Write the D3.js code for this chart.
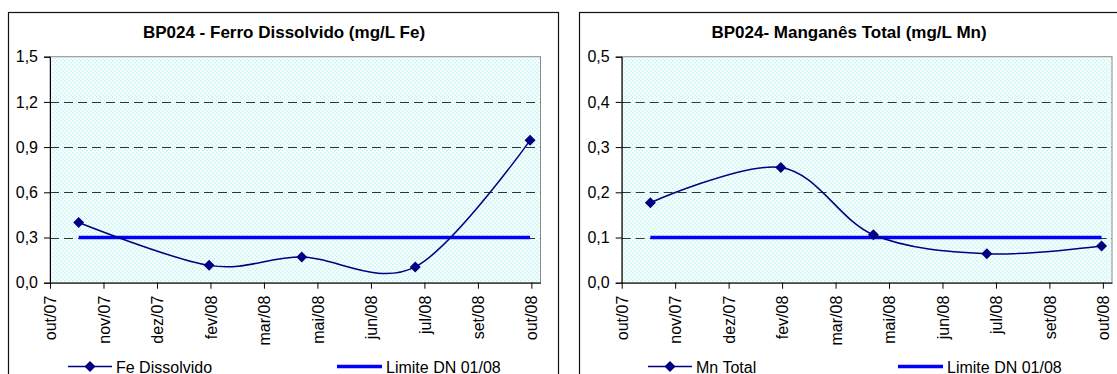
<!DOCTYPE html>
<html>
<head>
<meta charset="utf-8">
<script src="https://cdn.jsdelivr.net/npm/d3@7"></script>
<style>
  html, body { margin: 0; padding: 0; background: #fff; }
  svg { display: block; }
  text { font-family: "Liberation Sans", Arial, sans-serif; fill: #000; }
</style>
</head>
<body>
<svg id="chart" width="1117" height="374"></svg>
<script>
// ---------- data ----------
const tickDates = ["2007-10-09","2007-11-19","2007-12-30","2008-02-09","2008-03-21",
                   "2008-05-01","2008-06-11","2008-07-22","2008-09-01","2008-10-12"];
const tickLabels = ["out/07","nov/07","dez/07","fev/08","mar/08",
                    "mai/08","jun/08","jul/08","set/08","out/08"];
const axisStart = "2007-10-09";
const axisEnd = "2008-10-19";
const sampleDates = ["2007-10-31","2008-02-08","2008-04-19","2008-07-15","2008-10-11"];
const feValues = [0.40, 0.115, 0.17, 0.105, 0.945];
const mnValues = [0.177, 0.255, 0.106, 0.064, 0.081];
const feLimit = [0.3, 0.3, 0.3, 0.3, 0.3];
const mnLimit = [0.1, 0.1, 0.1, 0.1, 0.1];
const feTicks = [0, 0.3, 0.6, 0.9, 1.2, 1.5];
const mnTicks = [0, 0.1, 0.2, 0.3, 0.4, 0.5];
const titles = ["BP024 - Ferro Dissolvido (mg/L Fe)", "BP024- Manganês Total (mg/L Mn)"];
const seriesNames = ["Fe Dissolvido", "Mn Total"];
const limitName = "Limite DN 01/08";

const parse = d3.timeParse("%Y-%m-%d");
const svg = d3.select("#chart");

const defs = svg.append("defs");
const pat = defs.append("pattern").attr("id", "dots")
  .attr("width", 4).attr("height", 4).attr("patternUnits", "userSpaceOnUse");
pat.append("rect").attr("width", 4).attr("height", 4).attr("fill", "#f7fefe");
pat.append("rect").attr("x", 0).attr("y", 0).attr("width", 1.5).attr("height", 1.5).attr("fill", "#c4f3f3");
pat.append("rect").attr("x", 2).attr("y", 2).attr("width", 1.5).attr("height", 1.5).attr("fill", "#c4f3f3");

const fmt = v => d3.format(".1f")(v).replace(".", ",");
const diamond = "M0,-5.5L5.5,0L0,5.5L-5.5,0Z";

function drawChart(cfg) {
  const g = svg.append("g");
  const top = 56.7, bottom = 282.7;

  // frame
  g.append("rect").attr("x", cfg.frameX + 0.5).attr("y", 12.5)
    .attr("width", cfg.frameW).attr("height", 400)
    .attr("fill", "#fff").attr("stroke", "#111").attr("stroke-width", 1.2);

  // title
  g.append("text").attr("x", cfg.titleX).attr("y", 37.5)
    .attr("text-anchor", "middle").attr("font-size", 17).attr("font-weight", "bold")
    .text(cfg.title);

  const x = d3.scaleTime().domain([parse(axisStart), parse(axisEnd)]).range([cfg.left, cfg.right]);
  const y = d3.scaleLinear().domain([0, d3.max(cfg.ticks)]).range([bottom, top]);

  // plot background
  g.append("rect").attr("x", cfg.left).attr("y", top)
    .attr("width", cfg.right - cfg.left).attr("height", bottom - top)
    .attr("fill", "url(#dots)").attr("stroke", "#8a8a8a").attr("stroke-width", 1);

  // gridlines
  g.selectAll(".grid").data(cfg.ticks.slice(1, -1)).join("line")
    .attr("x1", cfg.left).attr("x2", cfg.right)
    .attr("y1", d => Math.round(y(d)) + 0.5).attr("y2", d => Math.round(y(d)) + 0.5)
    .attr("stroke", "#333").attr("stroke-width", 1).attr("stroke-dasharray", "9,5");

  // y axis
  const yAxis = d3.axisLeft(y).tickValues(cfg.ticks).tickFormat(fmt).tickSize(6).tickPadding(6);
  const ya = g.append("g").attr("transform", `translate(${cfg.left},0)`).call(yAxis);
  ya.select(".domain").attr("stroke", "#000");
  ya.selectAll(".tick line").attr("stroke", "#000");
  ya.selectAll("text").attr("font-size", 16).attr("font-family", "Liberation Sans, Arial, sans-serif").attr("fill", "#000");

  // x axis
  const xAxis = d3.axisBottom(x).tickValues(tickDates.map(parse))
    .tickFormat((d, i) => tickLabels[i]).tickSize(6).tickSizeOuter(0);
  const xa = g.append("g").attr("transform", `translate(0,${bottom})`).call(xAxis);
  xa.select(".domain").attr("stroke", "#000");
  xa.selectAll(".tick line").attr("stroke", "#000");
  xa.selectAll("text")
    .attr("font-size", 16).attr("font-family", "Liberation Sans, Arial, sans-serif").attr("fill", "#000")
    .attr("text-anchor", "end")
    .attr("transform", "translate(0,13) rotate(-90)")
    .attr("x", 0).attr("y", 0).attr("dy", "0.35em");

  const pts = sampleDates.map((d, i) => ({ date: parse(d), v: cfg.values[i], lim: cfg.limit[i] }));

  // limit line
  g.append("path").datum(pts)
    .attr("d", d3.line().x(d => x(d.date)).y(d => y(d.lim)))
    .attr("fill", "none").attr("stroke", "#0000ff").attr("stroke-width", 3.5);

  // series line (smoothed)
  g.append("path").datum(pts)
    .attr("d", d3.line().x(d => x(d.date)).y(d => y(d.v)).curve(d3.curveCardinal.tension(0)))
    .attr("fill", "none").attr("stroke", "#000080").attr("stroke-width", 1.5);

  g.selectAll(".mk").data(pts).join("path")
    .attr("transform", d => `translate(${x(d.date)},${y(d.v)})`)
    .attr("d", diamond).attr("fill", "#000080");

  // legend
  const ly = 366.5, lt = 372.5;
  g.append("line").attr("x1", cfg.leg1).attr("x2", cfg.leg1 + 44).attr("y1", ly).attr("y2", ly)
    .attr("stroke", "#000080").attr("stroke-width", 1.5);
  g.append("path").attr("transform", `translate(${cfg.leg1 + 22},${ly})`).attr("d", diamond).attr("fill", "#000080");
  g.append("text").attr("x", cfg.leg1 + 48).attr("y", lt).attr("font-size", 16).text(cfg.name);
  g.append("line").attr("x1", cfg.leg2).attr("x2", cfg.leg2 + 45).attr("y1", ly).attr("y2", ly)
    .attr("stroke", "#0000ff").attr("stroke-width", 3.5);
  g.append("text").attr("x", cfg.leg2 + 49).attr("y", lt).attr("font-size", 16).text(limitName);
}

drawChart({ frameX: 8, frameW: 550, titleX: 284, left: 50, right: 540.5,
  title: titles[0], ticks: feTicks, values: feValues, limit: feLimit, name: seriesNames[0],
  leg1: 68, leg2: 337 });
drawChart({ frameX: 579, frameW: 550, titleX: 849, left: 621.7, right: 1112,
  title: titles[1], ticks: mnTicks, values: mnValues, limit: mnLimit, name: seriesNames[1],
  leg1: 648, leg2: 898 });
</script>
</body>
</html>
